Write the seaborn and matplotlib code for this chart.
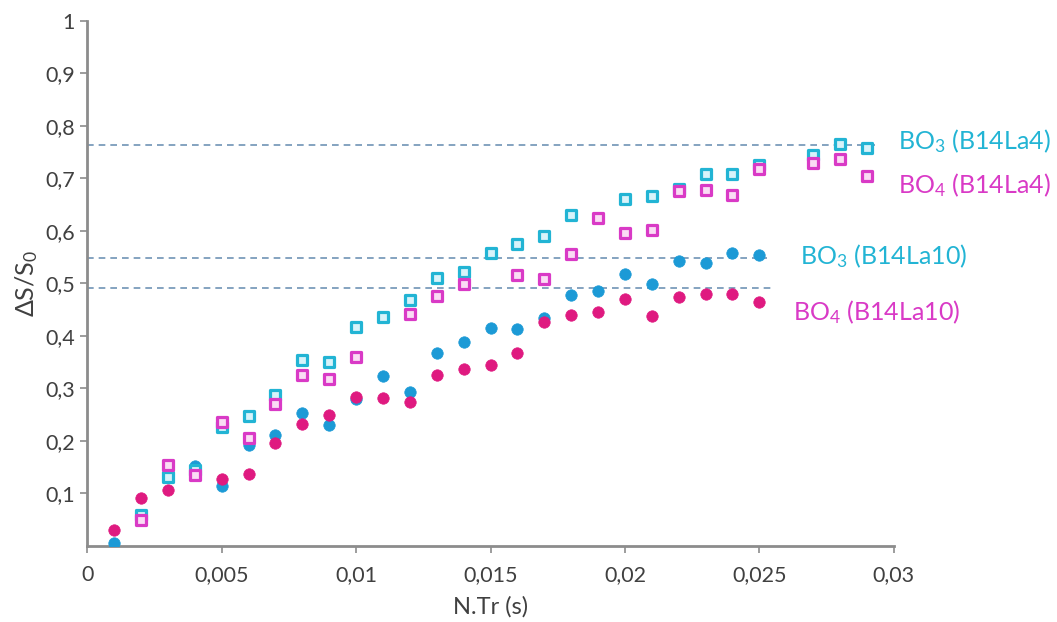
import matplotlib
matplotlib.use("Agg")
import matplotlib.pyplot as plt
import seaborn as sns
import pandas as pd
import numpy as np

# ---------------- data ----------------
t_bo3_la4 = [0.002, 0.003, 0.004, 0.005, 0.006, 0.007, 0.008, 0.009, 0.010, 0.011,
             0.012, 0.013, 0.014, 0.015, 0.016, 0.017, 0.018, 0.020, 0.021, 0.022,
             0.023, 0.024, 0.025, 0.027, 0.028, 0.029]
v_bo3_la4 = [0.059, 0.132, 0.145, 0.227, 0.247, 0.287, 0.354, 0.351, 0.417, 0.435,
             0.468, 0.510, 0.521, 0.558, 0.575, 0.590, 0.630, 0.660, 0.666, 0.680,
             0.708, 0.708, 0.725, 0.744, 0.765, 0.757]

t_bo4_la4 = [0.002, 0.003, 0.004, 0.005, 0.006, 0.007, 0.008, 0.009, 0.010, 0.012,
             0.013, 0.014, 0.016, 0.017, 0.018, 0.019, 0.020, 0.021, 0.022, 0.023,
             0.024, 0.025, 0.027, 0.028, 0.029]
v_bo4_la4 = [0.049, 0.154, 0.135, 0.236, 0.205, 0.270, 0.325, 0.317, 0.359, 0.441,
             0.476, 0.499, 0.516, 0.508, 0.555, 0.625, 0.596, 0.601, 0.676, 0.678,
             0.668, 0.717, 0.729, 0.737, 0.705]

t_bo3_la10 = [0.001, 0.004, 0.005, 0.006, 0.007, 0.008, 0.009, 0.010, 0.011, 0.012,
              0.013, 0.014, 0.015, 0.016, 0.017, 0.018, 0.019, 0.020, 0.021, 0.022,
              0.023, 0.024, 0.025]
v_bo3_la10 = [0.005, 0.152, 0.113, 0.192, 0.211, 0.252, 0.230, 0.280, 0.324, 0.292,
              0.367, 0.388, 0.414, 0.413, 0.434, 0.478, 0.485, 0.517, 0.499, 0.542,
              0.538, 0.557, 0.554]

t_bo4_la10 = [0.001, 0.002, 0.003, 0.005, 0.006, 0.007, 0.008, 0.009, 0.010, 0.011,
              0.012, 0.013, 0.014, 0.015, 0.016, 0.017, 0.018, 0.019, 0.020, 0.021,
              0.022, 0.023, 0.024, 0.025]
v_bo4_la10 = [0.030, 0.092, 0.106, 0.128, 0.137, 0.195, 0.232, 0.249, 0.284, 0.282,
              0.274, 0.325, 0.337, 0.344, 0.367, 0.427, 0.440, 0.446, 0.471, 0.438,
              0.473, 0.479, 0.479, 0.464]

plateau_levels = [0.763, 0.549, 0.491]
plateau_ends = [0.0293, 0.0253, 0.0256]

x_ticks = [0, 0.005, 0.01, 0.015, 0.02, 0.025, 0.03]
x_tick_labels = ["0", "0,005", "0,01", "0,015", "0,02", "0,025", "0,03"]
y_ticks = [0.1, 0.2, 0.3, 0.4, 0.5, 0.6, 0.7, 0.8, 0.9, 1.0]
y_tick_labels = ["0,1", "0,2", "0,3", "0,4", "0,5", "0,6", "0,7", "0,8", "0,9", "1"]

series_labels = ["BO$_3$ (B14La4)", "BO$_4$ (B14La4)", "BO$_3$ (B14La10)", "BO$_4$ (B14La10)"]
label_x = [0.03016, 0.03016, 0.0265, 0.02625]
label_y = [0.770, 0.687, 0.551, 0.446]

# ---------------- style ----------------
sns.set_theme(style="white")
plt.rcParams["font.family"] = ["Lato", "DejaVu Sans"]
plt.rcParams["mathtext.fontset"] = "custom"
plt.rcParams["mathtext.rm"] = "Lato"
plt.rcParams["mathtext.it"] = "Lato:italic"
plt.rcParams["mathtext.bf"] = "Lato:bold"

CYAN_SQ = "#22b4d4"
CYAN_SQ_FACE = "#d8f3fa"
MAG_SQ = "#d93ac6"
MAG_SQ_FACE = "#fadcf4"
BLUE_C = "#1c9ad6"
PINK_C = "#df1a80"
AXIS_C = "#8c8c8c"
TEXT_C = "#404040"

fig = plt.figure(figsize=(10.57, 6.22), dpi=100)
ax = fig.add_axes([0.0826, 0.1225, 0.7629, 0.8441])

# plateau dashed lines
for lvl, xe in zip(plateau_levels, plateau_ends):
    ax.hlines(lvl, 0, xe, colors="#6f93b5", linestyles=(0, (4, 3)), linewidth=1.2, zorder=1)

# circles (La10)
sns.scatterplot(x=t_bo3_la10, y=v_bo3_la10, ax=ax, marker="o", s=68,
                color=BLUE_C, edgecolor=BLUE_C, linewidth=0.5, zorder=3)
sns.scatterplot(x=t_bo4_la10, y=v_bo4_la10, ax=ax, marker="o", s=68,
                color=PINK_C, edgecolor=PINK_C, linewidth=0.5, zorder=3)
# squares (La4)
sns.scatterplot(x=t_bo3_la4, y=v_bo3_la4, ax=ax, marker="s", s=55,
                color=CYAN_SQ_FACE, edgecolor=CYAN_SQ, linewidth=2.3, zorder=4)
sns.scatterplot(x=t_bo4_la4, y=v_bo4_la4, ax=ax, marker="s", s=55,
                color=MAG_SQ_FACE, edgecolor=MAG_SQ, linewidth=2.3, zorder=4)

ax.set_xlim(0, 0.03)
ax.set_ylim(0, 1)
ax.set_xticks(x_ticks)
ax.set_xticklabels(x_tick_labels)
ax.set_yticks(y_ticks)
ax.set_yticklabels(y_tick_labels)

for side in ["top", "right"]:
    ax.spines[side].set_visible(False)
for side in ["left", "bottom"]:
    ax.spines[side].set_color(AXIS_C)
    ax.spines[side].set_linewidth(2)

ax.tick_params(axis="both", which="major", direction="out", length=5, width=1.2,
               color=AXIS_C, labelsize=15.5, labelcolor=TEXT_C, bottom=True, left=True)
ax.tick_params(axis="x", pad=9)
ax.tick_params(axis="y", pad=4)

ax.set_xlabel("N.Tr (s)", fontsize=17, color=TEXT_C, labelpad=8)
ax.set_ylabel("ΔS/S$_0$", fontsize=18, color=TEXT_C, labelpad=4)

label_cols = [CYAN_SQ, MAG_SQ, CYAN_SQ, MAG_SQ]
for lx, ly, lab, col in zip(label_x, label_y, series_labels, label_cols):
    ax.text(lx, ly, lab, color=col, fontsize=18, va="center", ha="left", clip_on=False)

fig.savefig("out.png", dpi=100)
